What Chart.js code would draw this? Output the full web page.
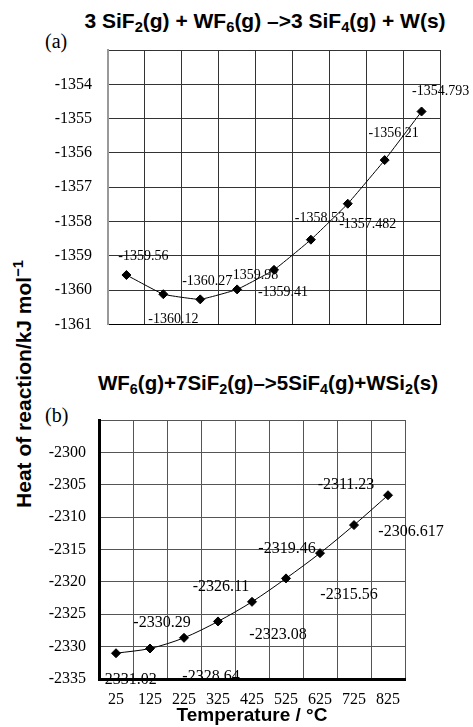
<!DOCTYPE html>
<html>
<head>
<meta charset="utf-8">
<script src="https://cdn.jsdelivr.net/npm/chart.js@4"></script>
<style>
  html, body { margin: 0; padding: 0; background: #fff; }
  #wrap { position: relative; width: 473px; height: 727px; overflow: hidden; }
  #wrap canvas { position: absolute; left: 0; }
  .ttl { position: absolute; white-space: nowrap; font-family: "Liberation Sans", Arial, sans-serif; font-weight: bold; color: #000; transform: translate(-50%, -50%); }
  .ttl sub { font-size: 70%; vertical-align: -0.3em; }
  .tag { position: absolute; font-family: "Liberation Serif", serif; font-size: 20px; color: #000; }
  #ytitle { position: absolute; left: 23px; top: 384px; white-space: nowrap; font-family: "Liberation Sans", Arial, sans-serif; font-weight: bold; font-size: 21px; transform: translate(-50%, -50%) rotate(-90deg); }
  #ytitle sup { font-size: 70%; vertical-align: 0.5em; }
</style>
</head>
<body>
<div id="wrap">
  <div class="ttl" style="left:265px;top:22px;font-size:21px">3 SiF<sub>2</sub>(g) + WF<sub>6</sub>(g) &ndash;&gt;3 SiF<sub>4</sub>(g) + W(s)</div>
  <div class="ttl" style="left:268px;top:384px;font-size:20.5px">WF<sub>6</sub>(g)+7SiF<sub>2</sub>(g)&ndash;&gt;5SiF<sub>4</sub>(g)+WSi<sub>2</sub>(s)</div>
  <div class="tag" style="left:45px;top:30px">(a)</div>
  <div class="tag" style="left:45px;top:404px">(b)</div>
  <div id="ytitle">Heat of reaction/kJ mol<sup>&minus;1</sup></div>
  <canvas id="chartA" width="473" height="350" style="top:0"></canvas>
  <canvas id="chartB" width="473" height="367" style="top:360px"></canvas>
</div>
<script>
// temperatures (°C)
const temps = ['25', '125', '225', '325', '425', '525', '625', '725', '825'];

// (a) 3 SiF2 + WF6 -> 3 SiF4 + W
const heatA = [-1359.56, -1360.12, -1360.27, -1359.98, -1359.41, -1358.53, -1357.482, -1356.21, -1354.793];
// (b) WF6 + 7 SiF2 -> 5 SiF4 + WSi2
const heatB = [-2331.02, -2330.29, -2328.64, -2326.11, -2323.08, -2319.46, -2315.56, -2311.23, -2306.617];

// where each value label sits relative to its point (px)
const labelOffsetA = [[17, -19], [10, 25], [7, -18], [16, -14], [9, 22], [9, -21], [20, 21], [9, -27], [19, -20]];
const labelOffsetB = [[12, 27], [12, -26], [27, 39], [3, -35], [26, 33], [1, -30], [29, 42], [-8, -40], [23, 37]];

const serif = "'Liberation Serif', 'Times New Roman', serif";
Chart.defaults.font.family = serif;
Chart.defaults.color = '#000';

// draws the value next to each marker
const valueLabels = {
  id: 'valueLabels',
  afterDatasetsDraw(chart, args, opts) {
    const ctx = chart.ctx;
    const meta = chart.getDatasetMeta(0);
    const vals = chart.data.datasets[0].data;
    ctx.save();
    ctx.font = opts.size + 'px ' + serif;
    ctx.fillStyle = '#000';
    ctx.textAlign = 'center';
    ctx.textBaseline = 'middle';
    meta.data.forEach((pt, i) => {
      const off = opts.offsets[i];
      ctx.fillText(String(vals[i]), pt.x + off[0], pt.y + off[1]);
    });
    ctx.restore();
  }
};

function makeChart(id, values, cfg) {
  return new Chart(document.getElementById(id), {
    type: 'line',
    data: {
      labels: temps,
      datasets: [{
        data: values,
        borderColor: '#000',
        borderWidth: 1,
        backgroundColor: '#000',
        pointStyle: 'rectRot',
        pointRadius: 4.5,
        pointBackgroundColor: '#000',
        tension: cfg.tension
      }]
    },
    options: {
      responsive: false,
      animation: false,
      layout: { padding: cfg.padding },
      plugins: {
        legend: { display: false },
        tooltip: { enabled: false },
        valueLabels: { offsets: cfg.offsets, size: cfg.labelSize }
      },
      scales: {
        x: {
          offset: true,
          grid: {
            offset: true,
            drawTicks: false,
            color: cfg.gridColor,
            lineWidth: cfg.xGridWidth
          },
          border: { color: '#000', width: cfg.borderWidth },
          ticks: {
            display: cfg.showX,
            padding: 11,
            color: '#000',
            font: { family: serif, size: 16 }
          },
          title: {
            display: cfg.showX,
            text: 'Temperature / °C',
            color: '#000',
            padding: 0,
            font: { family: 'Liberation Sans', weight: 'bold', size: 19, lineHeight: 1.2 }
          },
          afterFit: s => { s.height = cfg.xHeight; }
        },
        y: {
          min: cfg.min,
          max: cfg.max,
          grid: { drawTicks: false, color: cfg.gridColor },
          border: { color: cfg.leftColor, width: cfg.leftWidth },
          ticks: {
            stepSize: cfg.step,
            padding: cfg.tickPad,
            color: '#000',
            font: { family: serif, size: 16 },
            callback: v => (v === cfg.max ? '' : v)
          },
          afterFit: s => { s.width = cfg.yWidth; }
        }
      }
    },
    plugins: [valueLabels]
  });
}

makeChart('chartA', heatA, {
  padding: { top: 50, right: 33, left: 0, bottom: 0 },
  offsets: labelOffsetA, labelSize: 14, tension: 0.1,
  min: -1361, max: -1353, step: 1, tickPad: 16,
  yWidth: 108, xHeight: 13, showX: false,
  gridColor: '#333', xGridWidth: 1, borderWidth: 1,
  leftColor: '#999', leftWidth: 2
});

makeChart('chartB', heatB, {
  padding: { top: 60, right: 68, left: 0, bottom: 0 },
  offsets: labelOffsetB, labelSize: 16, tension: 0.3,
  min: -2335, max: -2295, step: 5, tickPad: 13,
  yWidth: 99, xHeight: 48, showX: true,
  gridColor: '#555', xGridWidth: c => (c.index === temps.length ? 3 : 1), borderWidth: 3,
  leftColor: '#000', leftWidth: 3
});
</script>
</body>
</html>
